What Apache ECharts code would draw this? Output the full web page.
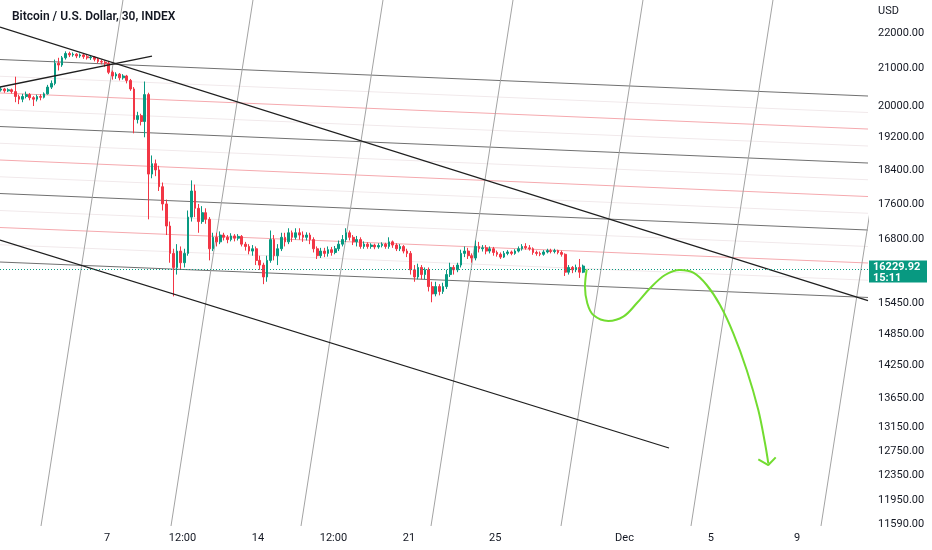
<!DOCTYPE html>
<html><head><meta charset="utf-8">
<script src="https://cdn.jsdelivr.net/npm/echarts@6/dist/echarts.min.js"></script>
<style>html,body{margin:0;padding:0;background:#fff}#c{width:932px;height:550px}</style>
</head><body><div id="c"></div>
<script>
// ---- data (4-hour candles from 2 Nov 2022 00:00 UTC); x unit = days since that start ----
const startDateLabel = '2022-11-02 00:00 UTC';
const candleHours = 4;
const opens = [20420,20450,20400,20430,20380,20250,20180,20250,20300,20220,20180,20250,
20230,20320,20500,20600,21150,21100,21300,21420,21380,21400,21350,21380,
21330,21300,21320,21260,21200,21180,21150,20900,20800,20850,20750,20800,
20680,20450,19650,19750,19600,20300,18300,18550,18400,18000,17600,17100,
16500,16200,16550,16300,16500,17300,17900,17500,17200,17400,17250,16600,
16850,16750,16900,16850,16800,16880,16830,16870,16700,16650,16550,16600,
16350,16250,16000,16350,16800,16450,16600,16850,16750,16950,16850,16950,
16900,16850,16900,16800,16600,16450,16550,16500,16580,16520,16600,16700,
16800,16950,16850,16750,16800,16650,16700,16650,16680,16640,16670,16700,
16650,16750,16680,16600,16650,16550,16500,16150,16000,16200,16050,16150,
15800,15650,15800,15700,15800,16050,16200,16150,16250,16500,16550,16450,
16400,16650,16600,16620,16550,16600,16520,16480,16420,16500,16530,16500,
16550,16600,16650,16620,16600,16520,16500,16480,16530,16560,16540,16560,
16520,16480,16100,16200,16150,16200,16100];
const closes = [20450,20400,20430,20380,20250,20180,20250,20300,20220,20180,20250,20230,
20320,20500,20600,21150,21100,21300,21420,21380,21400,21350,21380,21330,
21300,21320,21260,21200,21180,21150,20900,20800,20850,20750,20800,20680,
20450,19650,19750,19600,20300,18300,18550,18400,18000,17600,17100,16500,
16200,16550,16300,16500,17300,17900,17500,17200,17400,17250,16600,16850,
16750,16900,16850,16800,16880,16830,16870,16700,16650,16550,16600,16350,
16250,16000,16350,16800,16450,16600,16850,16750,16950,16850,16950,16900,
16850,16900,16800,16600,16450,16550,16500,16580,16520,16600,16700,16800,
16950,16850,16750,16800,16650,16700,16650,16680,16640,16670,16700,16650,
16750,16680,16600,16650,16550,16500,16150,16000,16200,16050,16150,15800,
15650,15800,15700,15800,16050,16200,16150,16250,16500,16550,16450,16400,
16650,16600,16620,16550,16600,16520,16480,16420,16500,16530,16500,16550,
16600,16650,16620,16600,16520,16500,16480,16530,16560,16540,16560,16520,
16480,16100,16200,16150,16200,16100,16229.92];
const lows = [20380,20350,20370,20330,20100,20050,20100,20200,20150,20000,20120,20150,
20200,20300,20450,20550,20950,21050,21250,21320,21330,21290,21300,21270,
21250,21240,21200,21150,21120,21050,20850,20700,20720,20680,20700,20600,
20400,19300,19550,19500,19200,17250,18200,18250,17900,17450,16900,16300,
15600,16050,16150,16200,16450,17200,17300,16950,17150,17150,16350,16550,
16650,16700,16780,16720,16760,16760,16780,16650,16560,16480,16450,16250,
16150,15850,15900,16300,16350,16250,16550,16650,16700,16750,16800,16800,
16750,16780,16700,16520,16380,16400,16420,16430,16450,16480,16550,16650,
16750,16780,16680,16650,16600,16600,16600,16600,16590,16600,16630,16600,
16600,16620,16550,16550,16500,16420,16050,15900,15950,15950,15950,15700,
15480,15600,15620,15650,15750,16000,16050,16100,16200,16420,16380,16300,
16350,16520,16540,16480,16500,16450,16430,16380,16400,16460,16460,16470,
16520,16560,16580,16560,16470,16450,16440,16450,16500,16500,16500,16480,
16430,16020,16050,16080,16100,15980,16080];
const highs = [20500,20480,20470,20460,20780,20300,20320,20380,20340,20260,20300,20310,
20360,20560,20680,21250,21300,21350,21480,21470,21450,21430,21420,21410,
21380,21370,21350,21300,21250,21230,21200,20950,20900,20880,20850,20830,
20720,20500,19850,19800,20650,20350,18750,18650,18500,18100,17700,17200,
16600,16700,16650,16600,17450,18150,18050,17600,17550,17500,17300,16950,
16950,16980,16950,16900,16940,16920,16920,16900,16750,16700,16680,16650,
16450,16300,16450,17000,16900,16700,16950,16950,17050,17000,17050,17050,
16980,16960,16950,16850,16650,16620,16620,16650,16640,16660,16780,16900,
17050,17000,16900,16880,16850,16760,16740,16720,16710,16720,16740,16730,
16850,16780,16720,16700,16680,16600,16550,16250,16280,16250,16200,16200,
15900,15900,15850,15880,16150,16300,16250,16300,16580,16650,16620,16500,
16780,16750,16680,16680,16650,16640,16560,16520,16550,16570,16560,16590,
16650,16700,16720,16680,16630,16560,16540,16570,16600,16600,16600,16580,
16560,16500,16250,16230,16260,16380,16260];

const lastPrice = 16229.92;
const countdown = '15:11';
const priceTicks = [22000,21000,20000,19200,18400,17600,16800,15450,14850,14250,13650,13150,12750,12350,11950,11590];
const dateTickDays = [5, 8.5, 12, 15.5, 19, 23, 29, 33, 37];
const dateTickLabels = ['7','12:00','14','12:00','21','25','Dec','5','9'];
const viewDays = [0.037, 40.292];
const viewPrices = [11559, 22969];

// drawings, anchored in [day offset, price]
const trendLineA = [[0.037, 22173], [40.292, 15515]];
const trendLineB = [[0.037, 20502], [7.086, 21349]];
const trendLineC = [[0.037, 16790], [31.063, 12798]];
const channelLeftPrices  = [21252, 20343, 19472, 18639, 17841, 17067, 16315];
const channelRightPrices = [20263, 19408, 18566, 17771, 17011, 16294, 15577];
const slantTopDays    = [5.741, 11.770, 17.800, 23.829, 29.857, 35.886, 41.916];
const slantBottomDays = [1.939, 7.968, 13.997, 20.026, 26.055, 32.083, 38.112];
const pathDays   = [27.246,27.167,27.274,27.553,28.248,28.944,29.565,30.182,30.878,31.573,32.190,32.812,33.429,34.046,34.667,35.205,35.516,35.669];
const pathPrices = [16160,15798,15459,15224,15106,15191,15459,15765,16041,16146,16089,15833,15424,14865,14170,13449,12877,12545];
const arrowDays   = [35.205, 35.669, 36.012];
const arrowPrices = [12610, 12517, 12643];

// ---- build ----
const L = p => Math.log(p);
const FONT = 'Roboto, "Noto Sans", sans-serif';

const candles = opens.map((o, i) => [(i + 0.5) * candleHours / 24, L(o), L(closes[i]), L(lows[i]), L(highs[i])]);

function lineSeries(points, color, width, z, extra) {
  return Object.assign({
    type: 'line', data: points.map(p => [p[0], L(p[1])]),
    symbol: 'none', showSymbol: false, silent: true, animation: false, clip: true,
    lineStyle: { color: color, width: width }, z: z
  }, extra || {});
}

const series = [];
for (let i = 0; i < channelLeftPrices.length - 1; i++) {
  const l = Math.sqrt(channelLeftPrices[i] * channelLeftPrices[i + 1]);
  const r = Math.sqrt(channelRightPrices[i] * channelRightPrices[i + 1]);
  series.push(lineSeries([[viewDays[0], l], [viewDays[1], r]], '#f1e9eb', 1, 1));
}
channelLeftPrices.forEach((lp, i) => {
  series.push(lineSeries([[viewDays[0], lp], [viewDays[1], channelRightPrices[i]]], i % 2 === 0 ? '#707070' : '#f5a9ae', 1, 2));
});
slantTopDays.forEach((td, i) => {
  series.push(lineSeries([[td, viewPrices[1]], [slantBottomDays[i], viewPrices[0]]], '#a3a3a3', 1, 2));
});
series.push({
  type: 'candlestick', data: candles, barWidth: 2.2, z: 3, animation: false, silent: true,
  itemStyle: { color: '#089981', color0: '#f23645', borderColor: '#089981', borderColor0: '#f23645', borderWidth: 1 },
  markLine: {
    silent: true, symbol: ['none', 'none'], animation: false, label: { show: false },
    lineStyle: { color: '#089981', type: [1, 2], width: 1 },
    data: [{ yAxis: L(lastPrice) }]
  }
});
[trendLineA, trendLineB, trendLineC].forEach(tl => series.push(lineSeries(tl, '#1f1f1f', 1.3, 4)));
series.push(lineSeries(pathDays.map((d, i) => [d, pathPrices[i]]), '#72dc30', 2, 5, { smooth: 0.35 }));
series.push(lineSeries(arrowDays.map((d, i) => [d, arrowPrices[i]]), '#72dc30', 2, 5));

const labelMap = {};
dateTickDays.forEach((d, i) => { labelMap[d.toFixed(3)] = dateTickLabels[i]; });

const chart = echarts.init(document.getElementById('c'), null, { renderer: 'canvas' });
const option = {
  backgroundColor: '#ffffff',
  animation: false,
  title: {
    text: 'Bitcoin / U.S. Dollar, 30, INDEX', left: 7, top: 6,
    textStyle: { fontSize: 12, fontWeight: 600, color: '#131722', fontFamily: FONT }
  },
  grid: { left: 0, right: 64, top: 0, bottom: 24, outerBoundsMode: 'none', containLabel: false },
  xAxis: {
    type: 'value', min: viewDays[0], max: viewDays[1],
    axisLine: { show: false }, axisTick: { show: false }, splitLine: { show: false },
    axisLabel: {
      customValues: dateTickDays, margin: 7, color: '#131722', fontSize: 11, fontFamily: FONT,
      hideOverlap: false,
      formatter: v => labelMap[Number(v).toFixed(3)] || ''
    }
  },
  yAxis: {
    type: 'value', position: 'right', min: L(viewPrices[0]), max: L(viewPrices[1]), scale: true,
    axisLine: { show: false }, axisTick: { show: false }, splitLine: { show: false },
    axisLabel: {
      customValues: priceTicks.map(L), margin: 10, color: '#131722', fontSize: 11, fontFamily: FONT,
      hideOverlap: false, showMinLabel: true, showMaxLabel: true,
      formatter: v => Math.exp(v).toFixed(2)
    }
  },
  series: series
};
chart.setOption(option);

const yLast = chart.convertToPixel({ yAxisIndex: 0 }, L(lastPrice));
const xRight = chart.getWidth() - option.grid.right;
chart.setOption({
  graphic: [
    { type: 'text', x: xRight + 10, y: 6, style: { text: 'USD', fill: '#131722', font: '11px ' + FONT } },
    { type: 'rect', shape: { x: xRight + 1, y: yLast - 5.5, width: 58, height: 22 }, style: { fill: '#089981' }, z: 10 },
    { type: 'text', x: xRight + 5, y: yLast - 4, style: { text: lastPrice.toFixed(2), fill: '#ffffff', font: 'bold 11px ' + FONT }, z: 11 },
    { type: 'text', x: xRight + 5, y: yLast + 6.5, style: { text: countdown, fill: '#ffffff', font: 'bold 11px ' + FONT }, z: 11 }
  ]
});
</script></body></html>
